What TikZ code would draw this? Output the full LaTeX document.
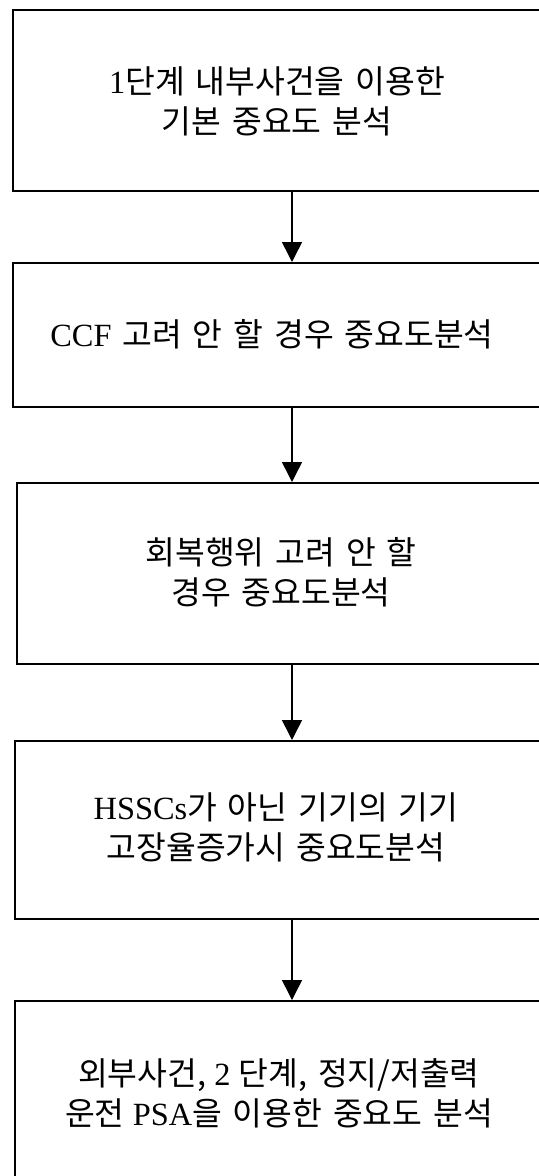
\documentclass[tikz,border=0pt]{standalone}
\usepackage{fontspec}
\setmainfont{Liberation Serif}
\newfontfamily\kr[WordSpace=1.5]{Noto Sans CJK KR}
\usetikzlibrary{arrows.meta}
\begin{document}
\begin{tikzpicture}[x=1bp,y=-1bp,
  box/.style={draw,line width=2bp,anchor=north west,inner sep=0pt,minimum width=536bp},
  lbl/.style={align=center,inner sep=0pt,font=\fontsize{32.5}{40}\selectfont},
  arr/.style={line width=1.5bp,-{Triangle[width=20bp,length=20bp]}}]
\useasboundingbox (0,0) rectangle (539,1176);
\node[box,minimum height=181bp] (b1) at (12,9) {};
\node[box,minimum height=144bp] (b2) at (12,262) {};
\node[box,minimum height=181bp,minimum width=532bp] (b3) at (16,482) {};
\node[box,minimum height=178bp,minimum width=534bp] (b4) at (14,740) {};
\node[box,minimum height=185bp,minimum width=534bp] (b5) at (14,1000) {};
\node[lbl] (t1) at (277,101) {1{\kr 단계 내부사건을 이용한}\\{\kr 기본 중요도 분석}};
\node[lbl] (t2) at (272,334) {CCF{\kr\ 고려 안 할 경우 중요도분석}};
\node[lbl] (t3) at (281,572) {{\kr 회복행위 고려 안 할}\\{\kr 경우 중요도분석}};
\node[lbl] (t4) at (276,827) {HSSCs{\kr 가 아닌 기기의 기기}\\{\kr 고장율증가시 중요도분석}};
\node[lbl] (t5) at (279,1093) {{\kr 외부사건,} 2 {\kr 단계, 정지/저출력}\\{\kr 운전} PSA{\kr 을 이용한 중요도 분석}};
\coordinate (ax) at (292,0);
\draw[arr] (b1.south -| ax) -- (b2.north -| ax);
\draw[arr] (b2.south -| ax) -- (b3.north -| ax);
\draw[arr] (b3.south -| ax) -- (b4.north -| ax);
\draw[arr] (b4.south -| ax) -- (b5.north -| ax);
\end{tikzpicture}
\end{document}
